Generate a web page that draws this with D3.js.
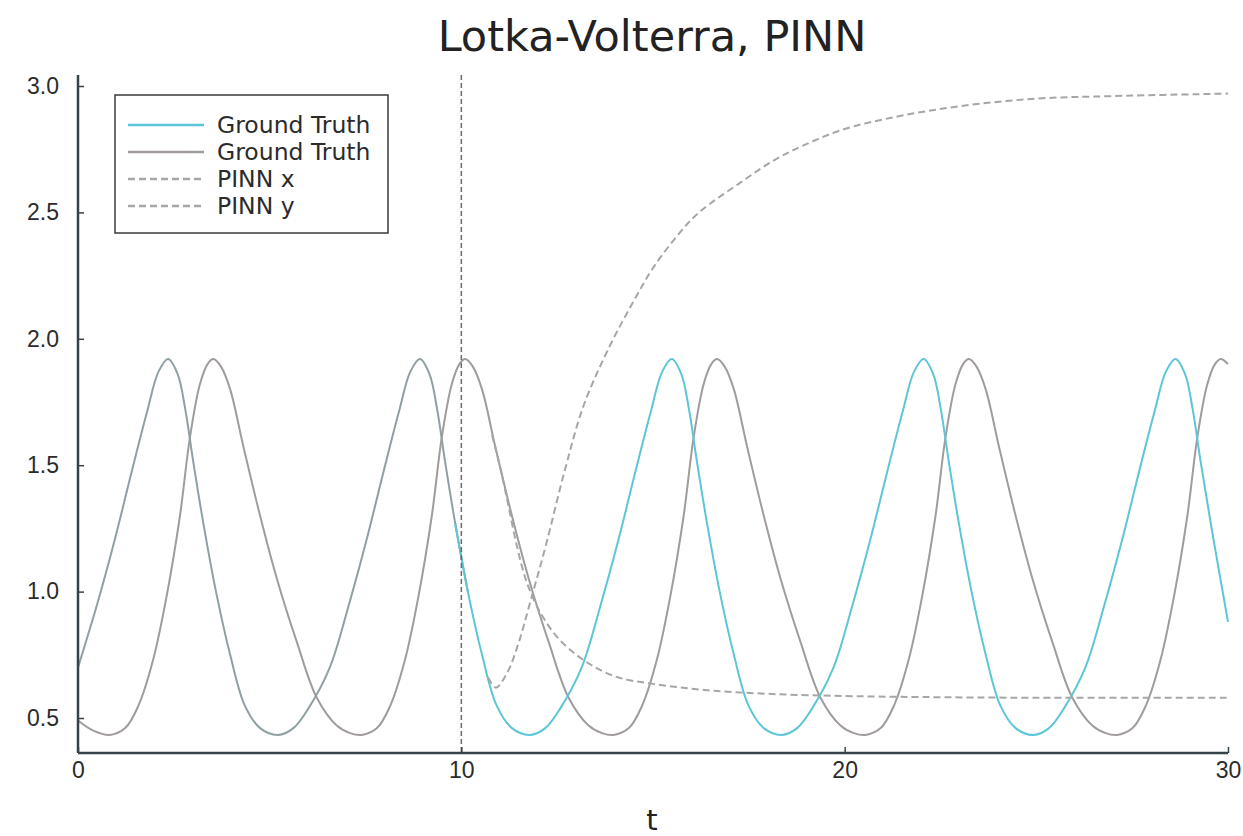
<!DOCTYPE html>
<html>
<head>
<meta charset="utf-8">
<script src="https://cdn.jsdelivr.net/npm/d3@7"></script>
<style>
  body { margin: 0; background: #fff; }
  svg { font-family: "DejaVu Sans", sans-serif; }
</style>
</head>
<body>
<svg id="chart"></svg>
<script>
var width = 1243;
var height = 836;

// ground truth x (prey)
var gtXt = [0, 0.50, 0.95, 1.41, 1.80, 2.10, 2.35, 2.60, 2.80, 3.00, 3.27, 3.60, 3.97, 4.35, 4.75, 5.22,
  5.62, 6.02, 6.57, 7.07, 7.52, 7.98, 8.37, 8.67, 8.92, 9.17, 9.37, 9.57, 9.84, 10.17, 10.54, 10.92, 11.32, 11.79,
  12.19, 12.59, 13.14, 13.64, 14.09, 14.55, 14.94, 15.24, 15.49, 15.74, 15.94, 16.14, 16.41, 16.74, 17.11, 17.49, 17.89, 18.36,
  18.76, 19.16, 19.71, 20.21, 20.66, 21.12, 21.51, 21.81, 22.06, 22.31, 22.51, 22.71, 22.98, 23.31, 23.68, 24.06, 24.46, 24.93,
  25.33, 25.73, 26.28, 26.78, 27.23, 27.69, 28.08, 28.38, 28.63, 28.88, 29.08, 29.28, 29.55, 30.00];
var gtX = [0.70, 0.95, 1.20, 1.48, 1.71, 1.87, 1.92, 1.86, 1.72, 1.52, 1.27, 1.00, 0.75, 0.55, 0.46, 0.433,
  0.46, 0.54, 0.70, 0.95, 1.20, 1.48, 1.71, 1.87, 1.92, 1.86, 1.72, 1.52, 1.27, 1.00, 0.75, 0.55, 0.46, 0.433,
  0.46, 0.54, 0.70, 0.95, 1.20, 1.48, 1.71, 1.87, 1.92, 1.86, 1.72, 1.52, 1.27, 1.00, 0.75, 0.55, 0.46, 0.433,
  0.46, 0.54, 0.70, 0.95, 1.20, 1.48, 1.71, 1.87, 1.92, 1.86, 1.72, 1.52, 1.27, 1.00, 0.75, 0.55, 0.46, 0.433,
  0.46, 0.54, 0.70, 0.95, 1.20, 1.48, 1.71, 1.87, 1.92, 1.86, 1.72, 1.52, 1.27, 0.88];

// ground truth y (predator)
var gtYt = [0, 0.40, 0.83, 1.23, 1.58, 1.96, 2.31, 2.66, 2.92, 3.18, 3.38, 3.53, 3.73, 3.97, 4.32, 4.75, 5.19, 5.71, 6.23, 6.75, 7.10, 7.40,
  7.80, 8.15, 8.53, 8.88, 9.23, 9.49, 9.75, 9.95, 10.10, 10.30, 10.54, 10.89, 11.32, 11.76, 12.28, 12.80, 13.32, 13.67, 13.97,
  14.37, 14.72, 15.10, 15.45, 15.80, 16.06, 16.32, 16.52, 16.67, 16.87, 17.11, 17.46, 17.89, 18.33, 18.85, 19.37, 19.89, 20.24, 20.54,
  20.94, 21.29, 21.67, 22.02, 22.37, 22.63, 22.89, 23.09, 23.24, 23.44, 23.68, 24.03, 24.46, 24.90, 25.42, 25.94, 26.46, 26.81, 27.11,
  27.51, 27.86, 28.24, 28.59, 28.94, 29.20, 29.46, 29.66, 29.81, 30.00];
var gtY = [0.49, 0.45, 0.433, 0.46, 0.55, 0.73, 0.98, 1.30, 1.61, 1.82, 1.90, 1.92, 1.89, 1.80, 1.57, 1.30, 1.05, 0.80, 0.58, 0.47, 0.44, 0.433,
  0.46, 0.55, 0.73, 0.98, 1.30, 1.61, 1.82, 1.90, 1.92, 1.89, 1.80, 1.57, 1.30, 1.05, 0.80, 0.58, 0.47, 0.44, 0.433,
  0.46, 0.55, 0.73, 0.98, 1.30, 1.61, 1.82, 1.90, 1.92, 1.89, 1.80, 1.57, 1.30, 1.05, 0.80, 0.58, 0.47, 0.44, 0.433,
  0.46, 0.55, 0.73, 0.98, 1.30, 1.61, 1.82, 1.90, 1.92, 1.89, 1.80, 1.57, 1.30, 1.05, 0.80, 0.58, 0.47, 0.44, 0.433,
  0.46, 0.55, 0.73, 0.98, 1.30, 1.61, 1.82, 1.90, 1.92, 1.90];

// PINN predictions
var pinnXt = [10.7, 10.9, 11.2, 11.5, 11.8, 12.2, 12.7, 13.2, 13.9, 14.5, 15.0, 15.7, 16.2, 17.3, 18.2, 19.0, 20.0, 21.4, 23.0, 25.0, 27.0, 30.0];
var pinnX = [0.66, 0.62, 0.68, 0.80, 0.96, 1.18, 1.48, 1.74, 1.98, 2.15, 2.28, 2.42, 2.50, 2.62, 2.71, 2.77, 2.83, 2.88, 2.92, 2.95, 2.96, 2.97];
var pinnYt = [10.8, 11.0, 11.2, 11.45, 11.7, 12.05, 12.5, 13.0, 13.5, 14.1, 15.0, 16.4, 18.1, 20.0, 22.0, 25.0, 30.0];
var pinnY = [1.62, 1.50, 1.36, 1.18, 1.04, 0.92, 0.82, 0.75, 0.70, 0.66, 0.635, 0.61, 0.595, 0.587, 0.583, 0.58, 0.58];

var tCut = 10;
var xTicks = [0, 10, 20, 30];
var yTicks = [0.5, 1.0, 1.5, 2.0, 2.5, 3.0];
var legendLabels = ["Ground Truth", "Ground Truth", "PINN x", "PINN y"];

var cyan = "#5cc6d8", cyanDim = "#8fa0a4", gray = "#a29b9c", dashGray = "#a6a6a6", axisColor = "#34434a";

var svg = d3.select("#chart").attr("width", width).attr("height", height);

var x = d3.scaleLinear().domain([0, 30]).range([78, 1228]);
var y = d3.scaleLinear().domain([0.5, 3.0]).range([718, 86]);
var yBottom = 0.3616, yTop = 3.0435;

function zip(ts, vs) { return ts.map(function(t, i) { return {t: t, v: vs[i]}; }); }

var line = d3.line()
    .x(function(d) { return x(d.t); })
    .y(function(d) { return y(d.v); })
    .curve(d3.curveCatmullRom.alpha(0.5));

var gx = zip(gtXt, gtX);
var gy = zip(gtYt, gtY);

// ground truth y
svg.append("path").attr("d", line(gy))
    .attr("fill", "none").attr("stroke", gray).attr("stroke-width", 2);

// ground truth x, dimmed up to the cut
svg.append("path").attr("d", line(gx.filter(function(d) { return d.t <= tCut + 0.2; })))
    .attr("fill", "none").attr("stroke", cyanDim).attr("stroke-width", 2);
svg.append("path").attr("d", line(gx.filter(function(d) { return d.t >= tCut - 0.2; })))
    .attr("fill", "none").attr("stroke", cyan).attr("stroke-width", 2);

svg.append("path").attr("d", line(zip(pinnXt, pinnX)))
    .attr("fill", "none").attr("stroke", dashGray).attr("stroke-width", 2)
    .attr("stroke-dasharray", "7,4");
svg.append("path").attr("d", line(zip(pinnYt, pinnY)))
    .attr("fill", "none").attr("stroke", dashGray).attr("stroke-width", 2)
    .attr("stroke-dasharray", "7,4");

// vertical marker at the training cut
svg.append("line")
    .attr("x1", x(tCut)).attr("x2", x(tCut))
    .attr("y1", y(yTop)).attr("y2", y(yBottom))
    .attr("stroke", "#6a6a6a").attr("stroke-width", 1.5)
    .attr("stroke-dasharray", "5,3");

// axes
var xAxis = svg.append("g")
    .attr("transform", "translate(0," + y(yBottom) + ")")
    .call(d3.axisBottom(x).tickValues(xTicks).tickFormat(d3.format("d"))
        .tickSize(-6).tickSizeOuter(0).tickPadding(9));
var yAxis = svg.append("g")
    .attr("transform", "translate(" + x(0) + ",0)")
    .call(d3.axisLeft(y).tickValues(yTicks).tickFormat(d3.format(".1f"))
        .tickSize(-6).tickSizeOuter(0).tickPadding(19));

[xAxis, yAxis].forEach(function(a) {
    a.selectAll("text").attr("fill", "#2b2b2b").style("font-size", "23px");
    a.selectAll("line").attr("stroke", axisColor).attr("stroke-width", 1.5);
    a.select(".domain").attr("stroke", axisColor).attr("stroke-width", 2.5);
});
// y domain spans the whole plot height
yAxis.select(".domain").attr("d", "M0," + y(yTop) + "V" + y(yBottom));
xAxis.select(".domain").attr("d", "M" + x(0) + ",0H" + x(30));

// title and axis label
svg.append("text")
    .attr("x", 652).attr("y", 51)
    .attr("text-anchor", "middle")
    .attr("fill", "#222")
    .style("font-size", "43px")
    .text("Lotka-Volterra, PINN");
svg.append("text")
    .attr("x", 652).attr("y", 830)
    .attr("text-anchor", "middle")
    .attr("fill", "#222")
    .style("font-size", "29px")
    .text("t");

// legend
var legend = svg.append("g").attr("transform", "translate(115,95)");
legend.append("rect")
    .attr("width", 273).attr("height", 138)
    .attr("fill", "#fff").attr("stroke", "#3a3a3a").attr("stroke-width", 1.5);
var styles = [
    {stroke: cyan, dash: null},
    {stroke: gray, dash: null},
    {stroke: dashGray, dash: "7,4"},
    {stroke: dashGray, dash: "7,4"}
];
legendLabels.forEach(function(lab, i) {
    var yy = 30 + i * 27;
    legend.append("line")
        .attr("x1", 13).attr("x2", 89).attr("y1", yy).attr("y2", yy)
        .attr("stroke", styles[i].stroke).attr("stroke-width", 2.5)
        .attr("stroke-dasharray", styles[i].dash);
    legend.append("text")
        .attr("x", 102).attr("y", yy + 8)
        .attr("fill", "#2b2b2b")
        .style("font-size", "23.5px")
        .text(lab);
});
</script>
</body>
</html>
